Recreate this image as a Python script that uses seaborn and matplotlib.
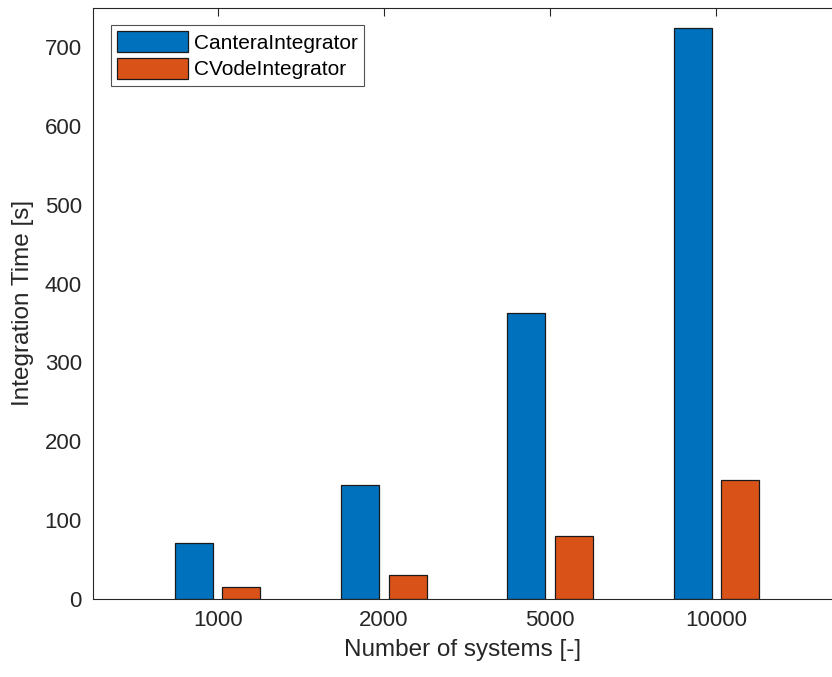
import matplotlib
matplotlib.use('Agg')
import matplotlib.pyplot as plt
import seaborn as sns
import pandas as pd

# data
systems = ['1000', '2000', '5000', '10000']
cantera = [71.5, 144.5, 363, 724]
cvode = [15, 30.5, 79.5, 151.5]
series = ['CanteraIntegrator', 'CVodeIntegrator']
colors = ['#0072BD', '#D95319']

df = pd.DataFrame({
    'systems': systems * 2,
    'time': cantera + cvode,
    'integrator': [series[0]] * 4 + [series[1]] * 4,
})

sns.set_style('white')
plt.rcParams['font.family'] = ['Liberation Sans', 'DejaVu Sans']
ink = '#262626'

fig = plt.figure(figsize=(8.32, 6.77), dpi=100)
ax = fig.add_axes([93 / 832, 1 - 599 / 677, 739 / 832, 591.5 / 677])

sns.barplot(data=df, x='systems', y='time', hue='integrator', order=systems,
            hue_order=series, palette=colors, width=0.572, gap=0.2,
            edgecolor='#1a1a1a', linewidth=0.9, saturation=1, ax=ax)

ax.set_xlim(-0.75, 3.695)
ax.set_ylim(0, 750)
ax.set_yticks(range(0, 701, 100))
ax.set_xlabel('Number of systems [-]', fontsize=17.5, color=ink, labelpad=6)
ax.set_ylabel('Integration Time [s]', fontsize=17.5, color=ink, labelpad=8)

# right edge of the box is cut off in the original
ax.tick_params(direction='in', length=6, width=0.8, colors=ink,
               labelsize=16, top=True, right=False, pad=8)
for s in ax.spines.values():
    s.set_color('#262626')
    s.set_linewidth(0.8)
ax.spines['right'].set_visible(False)

leg = ax.legend(loc='upper left', fontsize=15, frameon=True, fancybox=False,
                edgecolor=ink, handlelength=3.4, handleheight=1.15,
                borderpad=0.3, labelspacing=0.25, handletextpad=0.3,
                borderaxespad=0, bbox_to_anchor=(0.0244, 0.970))
leg.get_frame().set_linewidth(0.8)
for t in leg.get_texts():
    t.set_color('black')

fig.savefig('out.png', dpi=100)
